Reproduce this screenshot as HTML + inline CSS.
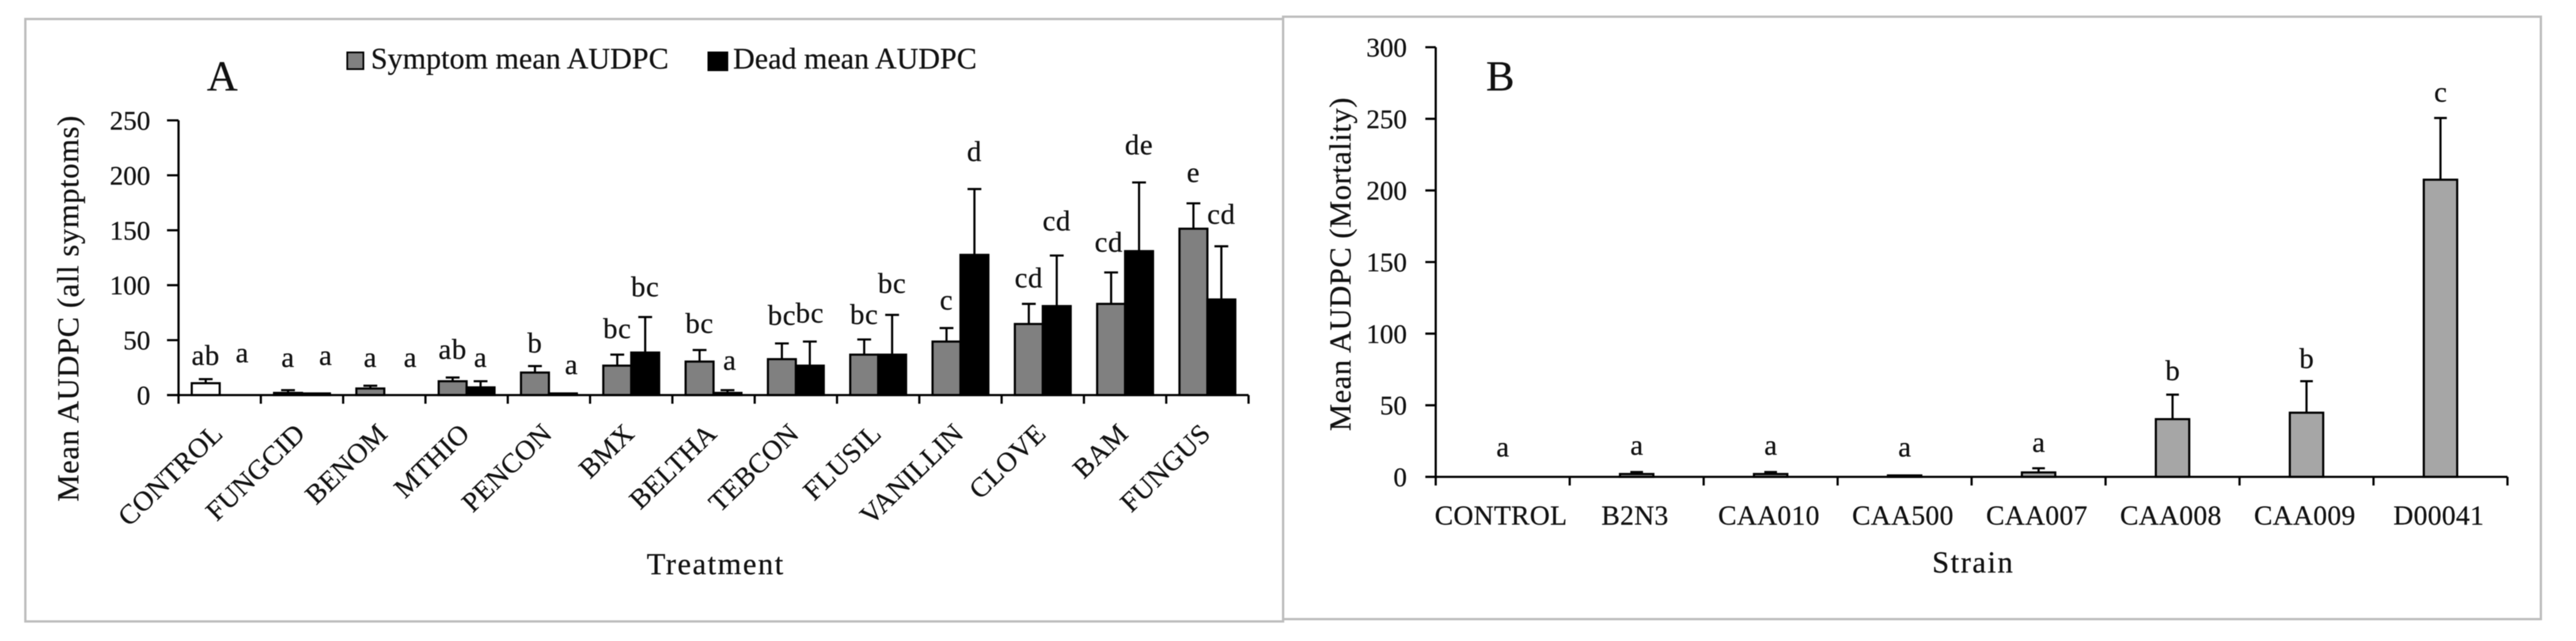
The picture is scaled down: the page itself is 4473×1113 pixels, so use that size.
<!DOCTYPE html>
<html lang="en">
<head>
<meta charset="utf-8">
<title>AUDPC bar charts</title>
<style>
html,body{margin:0;padding:0;background:#fff;width:4473px;height:1113px;overflow:hidden}
svg{display:block;filter:blur(.8px)}
text{font-family:"Liberation Serif",serif;fill:#111;stroke:#111;stroke-width:.4px}
</style>
</head>
<body>
<svg id="figure" xmlns="http://www.w3.org/2000/svg" width="4473" height="1113" viewBox="0 0 4473 1113">
  <rect x="0" y="0" width="4473" height="1113" fill="#fff"/>
  <rect x="44" y="33" width="2184" height="1046" fill="#fff" stroke="#bdbdbd" stroke-width="4"/>
  <rect x="2228" y="29" width="2184" height="1046" fill="#fff" stroke="#bdbdbd" stroke-width="4"/>

  <text x="386" y="157" font-size="74" text-anchor="middle">A</text>
  <text x="2605" y="157" font-size="74" text-anchor="middle">B</text>

  <g>
    <rect x="603" y="91" width="28" height="29" fill="#808080" stroke="#000" stroke-width="3"/>
    <text x="644" y="119" font-size="52" textLength="517" lengthAdjust="spacing">Symptom mean AUDPC</text>
    <rect x="1230" y="91" width="33" height="31" fill="#000" stroke="#000" stroke-width="3"/>
    <text x="1273" y="119" font-size="52" textLength="423" lengthAdjust="spacing">Dead mean AUDPC</text>
  </g>

  <text font-size="53" text-anchor="middle" transform="translate(136 536) rotate(-90)" textLength="670" lengthAdjust="spacing">Mean AUDPC (all symptoms)</text>
  <text x="1123" y="997" font-size="53" textLength="237" lengthAdjust="spacing">Treatment</text>
  <text font-size="53" text-anchor="middle" transform="translate(2345 459) rotate(-90)" textLength="579" lengthAdjust="spacing">Mean AUDPC (Mortality)</text>
  <text x="3355" y="994" font-size="53" textLength="140" lengthAdjust="spacing">Strain</text>

  <g id="chart-a"></g>
  <g id="chart-b"></g>
</svg>
<script>
// Panel A data
const treatments = ["CONTROL","FUNGCID","BENOM","MTHIO","PENCON","BMX","BELTHA","TEBCON","FLUSIL","VANILLIN","CLOVE","BAM","FUNGUS"];
const symptomMeans = [10.8,2,6,12.6,20.5,26.8,30.5,32.7,36.8,48.7,64.7,83,151.4];
const symptomErrors = [3.7,2.5,2.5,3.4,5.9,10,10.5,14.3,13.8,12.3,18.3,28.6,23.1];
const deadMeans = [0,1.5,0,7,1.5,38.7,2,26.8,36.8,127.6,81,131,87];
const deadErrors = [0,0,0,5.6,0,32.3,2.5,21.9,36.2,59.9,46,62.5,48.4];
const symptomLetters = ["ab","a","a","ab","b","bc","bc","bc","bc","c","cd","cd","e"];
const deadLetters = ["a","a","a","a","a","bc","a","bc","bc","d","cd","de","cd"];
const symptomLetterGaps = [13,21.2,17.2,17,12.3,15.2,15.5,17,14.1,16.8,15,19,19.5];
const deadLetterGaps = [29.8,26,25.7,13.1,17.5,19,18.5,17.3,20,25.5,23,25.5,20.6];
const yTicksA = [0,50,100,150,200,250];

// Panel B data
const strains = ["CONTROL","B2N3","CAA010","CAA500","CAA007","CAA008","CAA009","D00041"];
const mortalityMeans = [0,2,2,1,3.1,40.3,44.8,207.5];
const mortalityErrors = [0,1.4,1.4,0,2.9,17.1,22,43.1];
const mortalityLetters = ["a","a","a","a","a","b","b","c"];
const mortalityLetterGaps = [14.3,12,12,13.3,11.4,10.2,9.2,11.4];
const yTicksB = [0,50,100,150,200,250,300];

const NS = "http://www.w3.org/2000/svg";
function make(parent, tag, attrs, content) {
  const el = document.createElementNS(NS, tag);
  for (const k in attrs) el.setAttribute(k, attrs[k]);
  if (content !== undefined) el.textContent = content;
  parent.appendChild(el);
  return el;
}

// Panel A axes
const ax = { left: 310, right: 2168, y0: 686, yTop: 209, max: 250 };
const xBandA = i => ax.left + (ax.right - ax.left) / treatments.length * i;
const yA = v => ax.y0 - (ax.y0 - ax.yTop) * v / ax.max;
const bandA = (ax.right - ax.left) / treatments.length;
const barWA = 48.5;
const gapA = (bandA - 2 * barWA) / 2;
const nudgeA = { "CONTROL-dead": 15, "FUNGCID-dead": 17, "BENOM-dead": 21, "PENCON-dead": 15, "BELTHA-dead": 4, "BAM-symptom": -4 };

const gA = document.getElementById("chart-a");

function barsA(means, errors, letters, gaps, offset, fill, seriesName) {
  means.forEach((v, i) => {
    const x = xBandA(i) + gapA + offset * barWA;
    const cx = x + barWA / 2;
    if (v > 0) {
      const barFill = (treatments[i] === "CONTROL" && seriesName === "symptom") ? "#fff" : fill;
      const r = make(gA, "rect", { x: x, y: yA(v), width: barWA, height: yA(0) - yA(v), fill: barFill, stroke: "#000", "stroke-width": 3.7 });
      
      
    }
    const e = errors[i];
    if (e > 0) {
      const eb = make(gA, "path", { d: "M" + cx + " " + yA(v) + "V" + yA(v + e) + "M" + (cx - 12) + " " + yA(v + e) + "H" + (cx + 12), fill: "none", stroke: "#000", "stroke-width": 3.7 });
      
      
    }
    const nudge = nudgeA[treatments[i] + "-" + seriesName] || 0;
    const t = make(gA, "text", { x: cx + nudge, y: yA(v + e + gaps[i]), "font-size": 50, "text-anchor": "middle", "letter-spacing": 1 }, letters[i]);
    
    
  });
}
barsA(symptomMeans, symptomErrors, symptomLetters, symptomLetterGaps, 0, "#808080", "symptom");
barsA(deadMeans, deadErrors, deadLetters, deadLetterGaps, 1, "#000", "dead");

const axisA = make(gA, "path", { d: "M" + ax.left + " " + ax.yTop + "V" + (ax.y0 + 15) + "M" + (ax.left - 20) + " " + ax.y0 + "H" + ax.right, fill: "none", stroke: "#000", "stroke-width": 3.8 });



yTicksA.forEach(v => {
  const tk = make(gA, "line", { x1: ax.left - 20, x2: ax.left, y1: yA(v), y2: yA(v), stroke: "#000", "stroke-width": 3.8 });
  
  
  const lb = make(gA, "text", { x: 261, y: yA(v) + 16, "font-size": 47, "text-anchor": "end" }, String(v));
  
  
});
treatments.forEach((name, i) => {
  const tk = make(gA, "line", { x1: xBandA(i + 1), x2: xBandA(i + 1), y1: ax.y0, y2: ax.y0 + 15, stroke: "#000", "stroke-width": 3.8 });
  
  
  const cx = xBandA(i) + bandA / 2;
  const lb = make(gA, "text", { "font-size": 48, "text-anchor": "end", "letter-spacing": 0.5, transform: "translate(" + (cx + 8) + " 756) rotate(-44)" }, name);
  
  
});

// Panel B axes
const bx = { left: 2493, right: 4354, y0: 828, yTop: 82, max: 300 };
const bandB = (bx.right - bx.left) / strains.length;
const xBandB = i => bx.left + bandB * i;
const yB = v => bx.y0 - (bx.y0 - bx.yTop) * v / bx.max;
const barWB = 58;
const gB = document.getElementById("chart-b");

mortalityMeans.forEach((v, i) => {
  const cx = xBandB(i) + bandB / 2;
  if (v > 0) {
    const r = make(gB, "rect", { x: cx - barWB / 2, y: yB(v), width: barWB, height: yB(0) - yB(v), fill: "#a6a6a6", stroke: "#000", "stroke-width": 3.7 });
    
    
  }
  const e = mortalityErrors[i];
  if (e > 0) {
    const eb = make(gB, "path", { d: "M" + cx + " " + yB(v) + "V" + yB(v + e) + "M" + (cx - 11) + " " + yB(v + e) + "H" + (cx + 11), fill: "none", stroke: "#000", "stroke-width": 3.7 });
    
    
  }
  const t = make(gB, "text", { x: cx, y: yB(v + e + mortalityLetterGaps[i]), "font-size": 50, "text-anchor": "middle" }, mortalityLetters[i]);
  
  
});

const axisB = make(gB, "path", { d: "M" + bx.left + " " + bx.yTop + "V" + (bx.y0 + 15) + "M" + (bx.left - 18) + " " + bx.y0 + "H" + bx.right, fill: "none", stroke: "#000", "stroke-width": 3.8 });



yTicksB.forEach(v => {
  const tk = make(gB, "line", { x1: bx.left - 18, x2: bx.left, y1: yB(v), y2: yB(v), stroke: "#000", "stroke-width": 3.8 });
  
  
  const lb = make(gB, "text", { x: 2443, y: yB(v) + 16, "font-size": 47, "text-anchor": "end" }, String(v));
  
  
});
strains.forEach((name, i) => {
  const tk = make(gB, "line", { x1: xBandB(i + 1), x2: xBandB(i + 1), y1: bx.y0, y2: bx.y0 + 15, stroke: "#000", "stroke-width": 3.8 });
  
  
  const lb = make(gB, "text", { x: xBandB(i) + bandB / 2 - 3, y: 911, "font-size": 48, "text-anchor": "middle", "letter-spacing": 0.5 }, name);
  
  
});
</script>
</body>
</html>
